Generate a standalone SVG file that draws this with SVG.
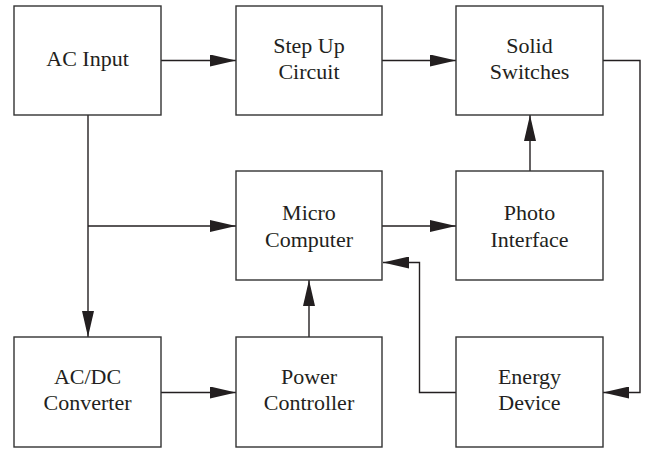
<svg xmlns="http://www.w3.org/2000/svg" width="645" height="449" viewBox="0 0 645 449">
<style>
.box{fill:#fff;stroke:#333;stroke-width:1.4}
.c{fill:none;stroke:#231f20;stroke-width:1.4}
text{font-family:"Liberation Serif","Times New Roman",Times,serif !important;font-size:22px;fill:#231f20;text-anchor:middle}
</style>
<defs>
<marker id="ah" markerUnits="userSpaceOnUse" markerWidth="26" markerHeight="12" refX="26" refY="6" orient="auto">
<path d="M0,0 L26,6 L0,12 z" fill="#231f20"/>
</marker>
</defs>
<rect width="645" height="449" fill="#fff"/>
<g id="connectors">
<path class="c" d="M161,60.5 H236" marker-end="url(#ah)"/>
<path class="c" d="M382,60.5 H456" marker-end="url(#ah)"/>
<path class="c" d="M603,60.5 H640 V392.5 H603" marker-end="url(#ah)"/>
<path class="c" d="M88,115 V337" marker-end="url(#ah)"/>
<path class="c" d="M88,226 H236" marker-end="url(#ah)"/>
<path class="c" d="M382,226 H456" marker-end="url(#ah)"/>
<path class="c" d="M530,171 V115" marker-end="url(#ah)"/>
<path class="c" d="M309,337 V280" marker-end="url(#ah)"/>
<path class="c" d="M161,392.5 H236" marker-end="url(#ah)"/>
<path class="c" d="M456,392.5 H419.5 V262.5 H383" marker-end="url(#ah)"/>
</g>
<g id="ac-input"><rect class="box" x="14" y="6" width="147" height="109"/><text x="87.5" y="66" style="font-family:'Liberation Serif',serif">AC Input</text></g>
<g id="step-up"><rect class="box" x="236" y="6" width="146" height="109"/><text x="309" y="52.5" style="font-family:'Liberation Serif',serif">Step Up</text><text x="309" y="79" style="font-family:'Liberation Serif',serif">Circuit</text></g>
<g id="solid-switches"><rect class="box" x="456" y="6" width="147" height="109"/><text x="529.5" y="52.5" style="font-family:'Liberation Serif',serif">Solid</text><text x="529.5" y="79" style="font-family:'Liberation Serif',serif">Switches</text></g>
<g id="micro-computer"><rect class="box" x="236" y="171" width="146" height="109"/><text x="309" y="220" style="font-family:'Liberation Serif',serif">Micro</text><text x="309" y="246.5" style="font-family:'Liberation Serif',serif">Computer</text></g>
<g id="photo-interface"><rect class="box" x="456" y="171" width="147" height="109"/><text x="529.5" y="220" style="font-family:'Liberation Serif',serif">Photo</text><text x="529.5" y="246.5" style="font-family:'Liberation Serif',serif">Interface</text></g>
<g id="acdc-converter"><rect class="box" x="14" y="337" width="147" height="110"/><text x="87.5" y="383.5" style="font-family:'Liberation Serif',serif">AC/DC</text><text x="87.5" y="410" style="font-family:'Liberation Serif',serif">Converter</text></g>
<g id="power-controller"><rect class="box" x="236" y="337" width="146" height="110"/><text x="309" y="383.5" style="font-family:'Liberation Serif',serif">Power</text><text x="309" y="410" style="font-family:'Liberation Serif',serif">Controller</text></g>
<g id="energy-device"><rect class="box" x="456" y="337" width="147" height="110"/><text x="529.5" y="383.5" style="font-family:'Liberation Serif',serif">Energy</text><text x="529.5" y="410" style="font-family:'Liberation Serif',serif">Device</text></g>
</svg>
